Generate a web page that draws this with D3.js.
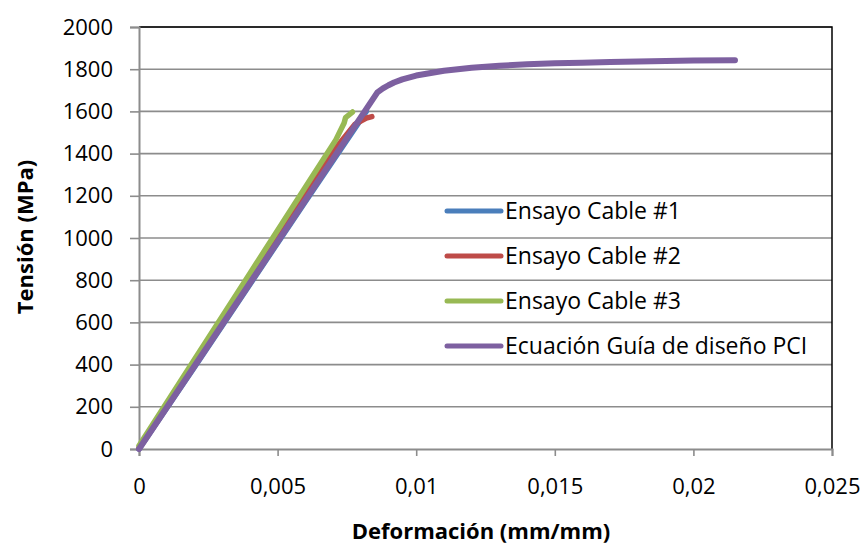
<!DOCTYPE html>
<html>
<head>
<meta charset="utf-8">
<script src="https://cdn.jsdelivr.net/npm/d3@7"></script>
<style>
  html, body { margin: 0; padding: 0; background: #fff; }
  svg { display: block; font-family: "Open Sans", "Noto Sans", sans-serif; }
</style>
</head>
<body>
<svg id="chart" width="863" height="546"></svg>
<script>
// Strain (mm/mm) / stress (MPa) pairs for each tested strand
const cable1Strain = [0, 0.0020, 0.0040, 0.0060, 0.0082];
const cable1Stress = [0, 388, 780, 1172, 1600];

const cable2Strain = [0, 0.0020, 0.0040, 0.0060, 0.0070, 0.0078, 0.0082, 0.0084];
const cable2Stress = [5, 406, 808, 1210, 1410, 1540, 1568, 1575];

const cable3Strain = [0, 0.0020, 0.0040, 0.0060, 0.0071, 0.0074, 0.00745, 0.0077];
const cable3Stress = [15, 424, 832, 1240, 1465, 1545, 1570, 1597];

// PCI design guide stress-strain curve
const pciStrain = [0, 0.0086, 0.0088, 0.0090, 0.0092, 0.0095, 0.0100, 0.0110, 0.0120,
  0.0130, 0.0140, 0.0150, 0.0160, 0.0170, 0.0180, 0.0190, 0.0200, 0.0215];
const pciStress = [0, 1690, 1709, 1724, 1737, 1752, 1770, 1793, 1807,
  1816, 1823, 1828, 1831, 1834, 1837, 1839, 1841, 1843];

const seriesNames = ["Ensayo Cable #1", "Ensayo Cable #2", "Ensayo Cable #3", "Ecuación Guía de diseño PCI"];
const seriesColors = ["#4a7ebb", "#be4b48", "#98b954", "#7d60a0"];

const xTicks = [0, 0.005, 0.01, 0.015, 0.02, 0.025];
const xTickLabels = ["0", "0,005", "0,01", "0,015", "0,02", "0,025"];
const yTicks = [0, 200, 400, 600, 800, 1000, 1200, 1400, 1600, 1800, 2000];

const series = [
  { strain: cable1Strain, stress: cable1Stress },
  { strain: cable2Strain, stress: cable2Stress },
  { strain: cable3Strain, stress: cable3Stress },
  { strain: pciStrain, stress: pciStress }
].map((s, i) => ({
  name: seriesNames[i],
  color: seriesColors[i],
  width: i === 3 ? 6 : 5.5,
  points: s.strain.map((x, j) => [x, s.stress[j]])
}));

const svg = d3.select("#chart");
const plot = { left: 139, right: 832, top: 27, bottom: 449 };

const x = d3.scaleLinear().domain([0, 0.025]).range([plot.left, plot.right]);
const y = d3.scaleLinear().domain([0, 2000]).range([plot.bottom, plot.top]);

const gridColor = "#8c8c8c";

// Horizontal gridlines
svg.append("g")
  .selectAll("line")
  .data(yTicks.filter(v => v > 0))
  .join("line")
  .attr("x1", plot.left).attr("x2", plot.right)
  .attr("y1", d => y(d)).attr("y2", d => y(d))
  .attr("stroke", gridColor).attr("stroke-width", 1.6);

// Black frame on top and right
svg.append("path")
  .attr("d", `M${plot.left},${plot.top}H${plot.right}V${plot.bottom}`)
  .attr("fill", "none").attr("stroke", "#000").attr("stroke-width", 1.5);

// Y axis
const yAxis = d3.axisLeft(y).tickValues(yTicks).tickSize(9).tickPadding(17).tickFormat(d3.format("d"));
const gy = svg.append("g").attr("transform", `translate(${plot.left},0)`).call(yAxis);
gy.select(".domain").attr("stroke", gridColor).attr("stroke-width", 2);
gy.selectAll(".tick line").attr("stroke", gridColor).attr("stroke-width", 1.6);
gy.selectAll(".tick text").attr("font-size", 22).attr("fill", "#000")
  .attr("font-family", "'Open Sans', sans-serif");

// X axis
const xAxis = d3.axisBottom(x).tickValues(xTicks).tickSize(7).tickPadding(22)
  .tickFormat((d, i) => xTickLabels[i]);
const gx = svg.append("g").attr("transform", `translate(0,${plot.bottom})`).call(xAxis);
gx.select(".domain").attr("stroke", gridColor).attr("stroke-width", 2);
gx.selectAll(".tick line").attr("stroke", gridColor).attr("stroke-width", 1.6);
gx.selectAll(".tick text").attr("font-size", 22).attr("fill", "#000")
  .attr("font-family", "'Open Sans', sans-serif");

// Data lines
const line = d3.line().x(d => x(d[0])).y(d => y(d[1]));
svg.append("g")
  .selectAll("path")
  .data(series)
  .join("path")
  .attr("d", d => line(d.points))
  .attr("fill", "none")
  .attr("stroke", d => d.color)
  .attr("stroke-width", d => d.width)
  .attr("stroke-linecap", "round")
  .attr("stroke-linejoin", "round");

// Legend
const legend = svg.append("g");
const legendY = [211, 256, 301, 346];
series.forEach((s, i) => {
  legend.append("line")
    .attr("x1", 447).attr("x2", 501)
    .attr("y1", legendY[i]).attr("y2", legendY[i])
    .attr("stroke", s.color).attr("stroke-width", 5).attr("stroke-linecap", "round");
  legend.append("text")
    .attr("x", 505).attr("y", legendY[i])
    .attr("dy", "0.35em")
    .attr("font-size", 23)
    .text(s.name);
});

// Axis titles
svg.append("text")
  .attr("x", 481).attr("y", 539)
  .attr("text-anchor", "middle")
  .attr("font-size", 22).attr("font-weight", "bold")
  .text("Deformación (mm/mm)");

svg.append("text")
  .attr("transform", "translate(33,237) rotate(-90)")
  .attr("text-anchor", "middle")
  .attr("font-size", 22).attr("font-weight", "bold")
  .text("Tensión (MPa)");
</script>
</body>
</html>
